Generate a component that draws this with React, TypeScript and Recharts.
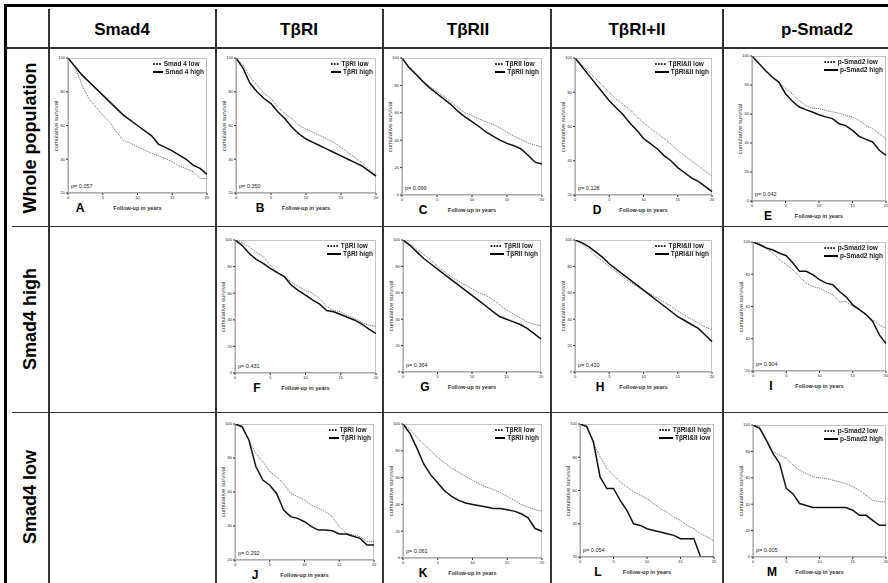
import React from 'react';
import { LineChart, Line, XAxis, YAxis } from 'recharts';

const years = [0, 1, 2, 3, 4, 5, 6, 7, 8, 9, 10, 11, 12, 13, 14, 15, 16, 17, 18, 19, 20];
const xTicks = [0, 5, 10, 15, 20];
const columnTitles = ['Smad4', 'TβRI', 'TβRII', 'TβRI+II', 'p-Smad2'];
const rowTitles = ['Whole population', 'Smad4 high', 'Smad4 low'];

// Whole population
const aLow = [100, 95, 84, 76, 71, 66, 62, 56, 51, 49.5, 47.5, 45.5, 43.5, 42, 40.5, 38.5, 36, 34.5, 32.6, 28.6, 28.6];
const aHigh = [100, 95, 90, 86, 82, 78, 74, 70, 66, 63, 60, 57, 54, 49, 47, 45, 42.5, 40, 36.5, 34.6, 31];
const bLow = [100, 96, 89, 84, 79, 76, 71, 67, 64, 60, 58, 56, 54, 52, 50, 47, 44, 41, 38, 34, 31];
const bHigh = [100, 94, 85, 80, 76, 73, 68, 64, 59, 55, 52, 50, 48, 46, 44, 42, 40, 38, 36, 33, 30];
const cLow = [100, 94, 89, 83.4, 79, 75.6, 72, 68, 63.7, 60, 58, 55.5, 53.5, 51.5, 49, 46, 43, 40.5, 38, 36.5, 35];
const cHigh = [100, 93, 88, 82.7, 78, 74, 70, 66, 61, 57, 53.5, 50, 46, 43, 40, 37.7, 36, 33.6, 29, 24, 22.6];
const dLow = [100, 96, 92, 88, 84, 80, 76, 73, 70, 66, 62, 59, 56, 53, 50, 46, 43, 40, 37, 34, 31];
const dHigh = [100, 95, 90, 85, 80, 75, 71, 67, 62, 58, 53, 50, 47, 43, 40, 36, 33, 30, 28, 25, 22];
const eLow = [100, 95, 90, 86, 82, 77.6, 74, 69.4, 66, 64, 63.7, 62.5, 61.4, 60.7, 59, 58, 55.6, 52, 50, 46.4, 43];
const eHigh = [100, 95, 90, 85.5, 82, 74, 69, 65, 63, 61.4, 59.5, 58, 56.8, 53.3, 52, 48.7, 44.6, 42.5, 40.7, 35, 31.5];
// Smad4 high
const fLow = [100, 98, 95, 91, 87.4, 81, 76, 72.4, 68.6, 65, 62, 60, 56, 50, 47, 46, 43, 41, 38, 36, 35];
const fHigh = [100, 96, 90, 85.4, 82.4, 78.6, 75.4, 72.4, 66, 62, 58.5, 55, 51.8, 47, 46, 44, 41.7, 39.7, 36.7, 33, 29.6];
const gLow = [100, 97, 93, 89, 85, 80, 76, 72, 69, 66, 63, 60, 58, 55, 51, 47, 44, 41, 38, 36, 35];
const gHigh = [100, 96, 91, 86, 82, 78, 74, 70, 66, 62, 58, 54, 50, 46, 42, 40, 38, 36, 33, 29, 25];
const hLow = [100, 97, 93, 88, 84, 80, 76, 72, 68, 65, 62, 59, 56, 53, 50, 46, 43, 40, 37, 34, 32];
const hHigh = [100, 98, 95, 91, 87, 82, 78, 74, 70, 66, 62, 58, 54, 50, 46, 42, 39, 36, 33, 28, 23];
const iLow = [100, 99, 96.3, 93, 89, 86, 82.8, 78.6, 74.5, 72.4, 71.4, 69.3, 67.3, 63, 63, 60, 58, 55, 51.7, 48.6, 46.5];
const iHigh = [100, 98.3, 96.3, 95, 93, 91.5, 87, 81.8, 81.8, 79.7, 76.6, 74.5, 73.5, 69.3, 66, 61, 58, 55, 50.7, 42.4, 37];
// Smad4 low
const jLow = [100, 98.8, 90.6, 82.7, 77.8, 72, 69, 65, 59.2, 57.3, 55.3, 52.4, 50.4, 48.4, 45.5, 39.6, 35.7, 34.7, 33.7, 30.8, 30.8];
const jHigh = [100, 98.4, 90.6, 75, 67, 64, 59, 49.4, 45.5, 44.5, 42.5, 39.6, 37.6, 37.6, 37.2, 35.3, 35.3, 34, 32.7, 28.8, 28.8];
const kLow = [100, 96, 90, 85, 80, 75, 71, 67, 64, 61, 58, 55, 53, 51, 49, 46, 43, 40, 38, 36, 35];
const kHigh = [100, 93, 82, 70, 62, 56, 50, 46, 43, 41, 40, 39, 38, 37, 37, 36, 35, 33, 30, 22, 20];
const lHigh = [100, 99, 88.3, 80.3, 73.3, 69.2, 65.2, 62.2, 59.2, 57.2, 55.2, 52.2, 49, 47, 44, 42, 39, 37, 34, 32, 29.6];
const lLow = [100, 98.4, 89.3, 68.2, 61.2, 61.2, 54, 48, 40, 39, 37, 36, 35, 34, 33, 31, 31, 31, 20, 20, 20];
const mLow = [100, 98.7, 88.6, 79.7, 77.2, 74.7, 69.6, 65.8, 63.3, 60.8, 60, 59.5, 58.2, 57, 55.7, 53.2, 50.6, 46.8, 43, 41.8, 41.8];
const mHigh = [100, 97.5, 88.6, 78.5, 71, 52, 48, 40.5, 39, 37.5, 37.5, 37.5, 37.5, 37.5, 37.5, 35.4, 31.6, 31.6, 27.8, 24, 24];

const pValues = ['0.057', '0.350', '0.099', '0.128', '0.042', '0.431', '0.364', '0.410', '0.904', '0.292', '0.061', '0.054', '0.005'];
const letters = ['A', 'B', 'C', 'D', 'E', 'F', 'G', 'H', 'I', 'J', 'K', 'L', 'M'];

const FONT = '"Liberation Sans", Arial, sans-serif';

type Panel = {
  x0: number; y0: number; x1: number; y1: number; yMin: number;
  dotted: number[]; solid: number[]; dottedLabel: string; solidLabel: string; dots: number; letterDx: number;
};

const panels: Panel[] = [
  { x0: 68, y0: 58, x1: 207, y1: 193, yMin: 20, dotted: aLow, solid: aHigh, dottedLabel: 'Smad 4 low', solidLabel: 'Smad 4 high', dots: 3, letterDx: 12 },
  { x0: 236, y0: 58, x1: 376, y1: 193, yMin: 20, dotted: bLow, solid: bHigh, dottedLabel: 'TβRI low', solidLabel: 'TβRI high', dots: 3, letterDx: 24 },
  { x0: 402, y0: 58, x1: 542, y1: 195, yMin: 0, dotted: cLow, solid: cHigh, dottedLabel: 'TβRII low', solidLabel: 'TβRII high', dots: 3, letterDx: 21 },
  { x0: 575, y0: 58, x1: 712, y1: 195, yMin: 20, dotted: dLow, solid: dHigh, dottedLabel: 'TβRI&II low', solidLabel: 'TβRI&II high', dots: 4, letterDx: 22 },
  { x0: 752, y0: 56, x1: 886, y1: 201, yMin: 0, dotted: eLow, solid: eHigh, dottedLabel: 'p-Smad2 low', solidLabel: 'p-Smad2 high', dots: 4, letterDx: 16 },
  { x0: 235, y0: 240, x1: 376, y1: 373, yMin: 0, dotted: fLow, solid: fHigh, dottedLabel: 'TβRI low', solidLabel: 'TβRI high', dots: 4, letterDx: 22 },
  { x0: 403, y0: 240, x1: 541, y1: 372, yMin: 0, dotted: gLow, solid: gHigh, dottedLabel: 'TβRII low', solidLabel: 'TβRII high', dots: 4, letterDx: 22 },
  { x0: 575, y0: 240, x1: 712, y1: 372, yMin: 0, dotted: hLow, solid: hHigh, dottedLabel: 'TβRI&II low', solidLabel: 'TβRI&II high', dots: 4, letterDx: 25 },
  { x0: 753, y0: 242, x1: 886, y1: 371, yMin: 20, dotted: iLow, solid: iHigh, dottedLabel: 'p-Smad2 low', solidLabel: 'p-Smad2 high', dots: 4, letterDx: 18 },
  { x0: 235, y0: 424, x1: 374, y1: 560, yMin: 20, dotted: jLow, solid: jHigh, dottedLabel: 'TβRI low', solidLabel: 'TβRI high', dots: 3, letterDx: 20 },
  { x0: 403, y0: 424, x1: 542, y1: 558, yMin: 0, dotted: kLow, solid: kHigh, dottedLabel: 'TβRII low', solidLabel: 'TβRII high', dots: 3, letterDx: 20 },
  { x0: 580, y0: 424, x1: 714, y1: 557, yMin: 20, dotted: lHigh, solid: lLow, dottedLabel: 'TβRI&II high', solidLabel: 'TβRI&II low', dots: 4, letterDx: 18 },
  { x0: 753, y0: 425, x1: 886, y1: 557, yMin: 0, dotted: mLow, solid: mHigh, dottedLabel: 'p-Smad2 low', solidLabel: 'p-Smad2 high', dots: 4, letterDx: 19 },
];

const headerCenters = [122, 299, 468, 637, 817];
const rowCenters = [138, 319, 497];

const ML = 20, MT = 4, MR = 3, MB = 12;

function KMPanel({ p, idx }: { p: Panel; idx: number }) {
  const w = p.x1 - p.x0 + ML + MR;
  const h = p.y1 - p.y0 + MT + MB;
  const data = years.map((t, i) => ({ t, dotted: p.dotted[i], solid: p.solid[i] }));
  const yTicks = p.yMin === 0 ? [0, 20, 40, 60, 80, 100] : [20, 40, 60, 80, 100];
  const cx = (p.x0 + p.x1) / 2;
  const cy = (p.y0 + p.y1) / 2;
  return (
    <>
      <div style={{ position: 'absolute', left: p.x0, top: p.y0, width: p.x1 - p.x0, height: p.y1 - p.y0, border: '1px solid #c4c4c4', boxSizing: 'border-box' }} />
      <div style={{ position: 'absolute', left: p.x0 - ML, top: p.y0 - MT }}>
        <LineChart width={w} height={h} data={data} margin={{ top: MT, right: MR, bottom: 0, left: 0 }}>
          <XAxis dataKey="t" type="number" domain={[0, 20]} ticks={xTicks} interval={0} height={MB}
            tick={{ fontSize: 4, fill: '#222', fontFamily: FONT }} tickSize={2} tickMargin={1}
            axisLine={{ stroke: '#999', strokeWidth: 1 }} tickLine={{ stroke: '#333' }} />
          <YAxis type="number" domain={[p.yMin, 100]} ticks={yTicks} interval={0} width={ML} allowDataOverflow
            tick={{ fontSize: 4, fill: '#222', fontFamily: FONT }} tickSize={2} tickMargin={1}
            axisLine={{ stroke: '#999', strokeWidth: 1 }} tickLine={{ stroke: '#333' }} />
          <Line type="linear" dataKey="dotted" stroke="#666" strokeWidth={1} strokeDasharray="1 1" dot={false} isAnimationActive={false} />
          <Line type="linear" dataKey="solid" stroke="#111" strokeWidth={1.5} dot={false} isAnimationActive={false} />
        </LineChart>
      </div>
      <div style={{ position: 'absolute', left: p.x0 - 12, top: cy, transform: 'translate(-50%,-50%) rotate(-90deg)', whiteSpace: 'nowrap', fontSize: 6, fontFamily: FONT, color: '#333' }}>cumulative survival</div>
      <div style={{ position: 'absolute', left: cx, top: p.y1 + 15, transform: 'translate(-50%,-50%)', whiteSpace: 'nowrap', fontSize: 5.5, fontWeight: 700, fontFamily: FONT, color: '#333' }}>Follow-up in years</div>
      <div style={{ position: 'absolute', left: p.x0 + p.letterDx, top: p.y1 + 15, transform: 'translate(-50%,-50%)', fontSize: 12, fontWeight: 700, fontFamily: FONT, color: '#000' }}>{letters[idx]}</div>
      <div style={{ position: 'absolute', left: p.x0 + 3, top: p.y1 - 7, transform: 'translateY(-50%)', whiteSpace: 'nowrap', fontSize: 5.5, fontFamily: FONT, color: '#222' }}>p= {pValues[idx]}</div>
      <div style={{ position: 'absolute', right: 888 - p.x1 + 3, top: p.y0 + 2, fontFamily: FONT, fontSize: 6.5, fontWeight: 700, color: '#222', lineHeight: '8px', transform: 'translateZ(0)' }}>
        <div style={{ display: 'flex', alignItems: 'center' }}>
          <span style={{ fontSize: 7, letterSpacing: 0.5, marginRight: 2, color: '#111' }}>{'•'.repeat(p.dots)}</span>
          <span>{p.dottedLabel}</span>
        </div>
        <div style={{ display: 'flex', alignItems: 'center' }}>
          <span style={{ display: 'inline-block', width: p.dots * 3.5, height: 2.5, background: '#000', marginRight: 2 }} />
          <span>{p.solidLabel}</span>
        </div>
      </div>
    </>
  );
}

export default function App() {
  const vLines = [49, 216, 383, 551, 723];
  return (
    <div style={{ position: 'absolute', left: 0, top: 0, width: 888, height: 583, background: '#fff', overflow: 'hidden', fontFamily: FONT }}>
      <div style={{ position: 'absolute', left: 4, top: 4, width: 884, height: 3, background: '#000' }} />
      <div style={{ position: 'absolute', left: 4, top: 4, width: 3, height: 579, background: '#000' }} />
      <div style={{ position: 'absolute', left: 6, top: 47, width: 882, height: 1.5, background: '#333' }} />
      <div style={{ position: 'absolute', left: 12, top: 225.5, width: 876, height: 1.5, background: '#333' }} />
      <div style={{ position: 'absolute', left: 12, top: 411.5, width: 876, height: 1.5, background: '#333' }} />
      {vLines.map((x) => (
        <div key={x} style={{ position: 'absolute', left: x - 0.75, top: 9, width: 1.5, height: 574, background: '#333' }} />
      ))}
      {columnTitles.map((t, i) => (
        <div key={t} style={{ position: 'absolute', left: headerCenters[i], top: 30, transform: 'translate(-50%,-50%)', fontSize: 17, fontWeight: 700, whiteSpace: 'nowrap' }}>{t}</div>
      ))}
      {rowTitles.map((t, i) => (
        <div key={t} style={{ position: 'absolute', left: 30, top: rowCenters[i], transform: 'translate(-50%,-50%) rotate(-90deg)', fontSize: 18, fontWeight: 700, whiteSpace: 'nowrap' }}>{t}</div>
      ))}
      {panels.map((p, i) => (
        <KMPanel key={i} p={p} idx={i} />
      ))}
    </div>
  );
}
